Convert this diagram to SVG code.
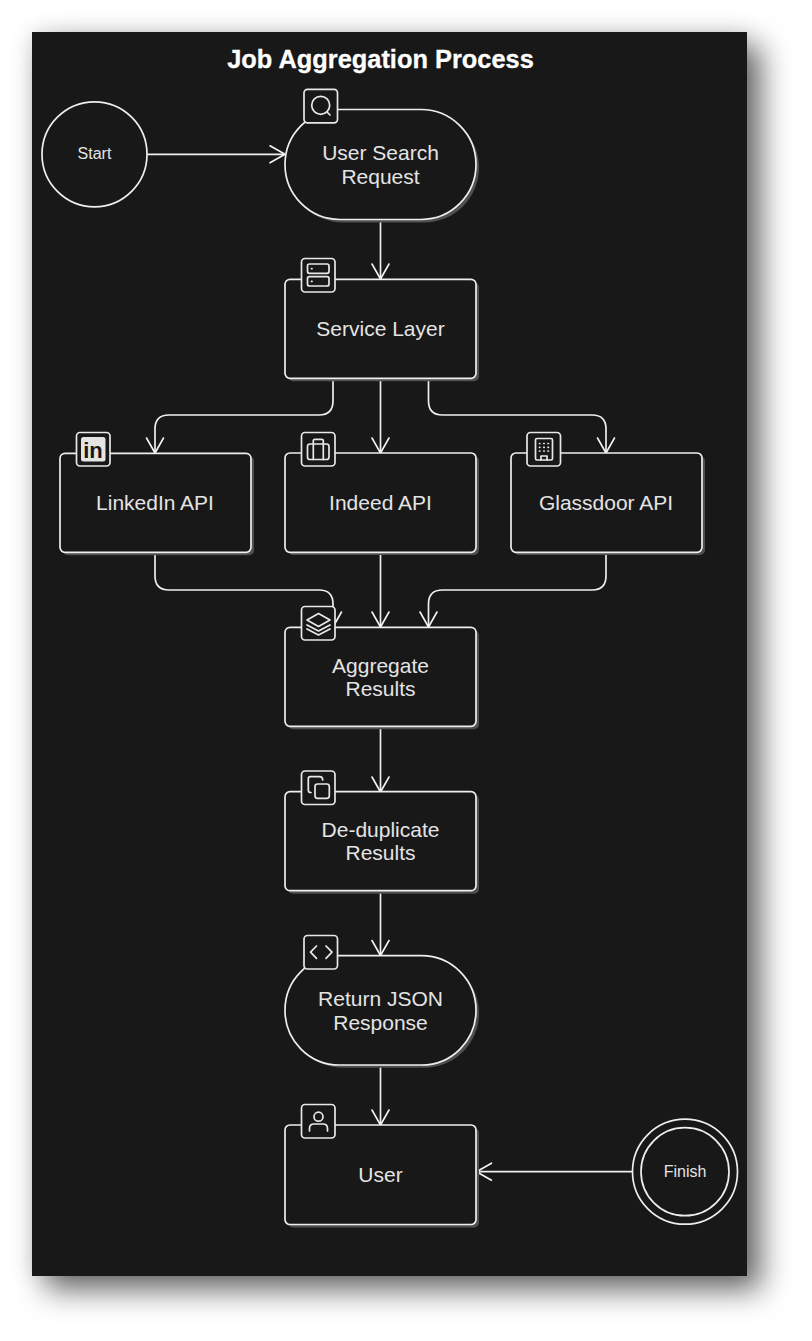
<svg xmlns="http://www.w3.org/2000/svg" width="812" height="1341" viewBox="0 0 812 1341">
<style>
.n{fill:#181818;stroke:#eeeeee;stroke-width:1.7}
.s{fill:#505050;stroke:none}
.b{fill:#181818;stroke:#e8e8e8;stroke-width:1.7}
.i{fill:none;stroke:#e8e8e8;stroke-width:1.7;stroke-linecap:round;stroke-linejoin:round}
.e{fill:none;stroke:#eeeeee;stroke-width:1.7}
.h{fill:none;stroke:#f4f4f4;stroke-width:1.6;stroke-linecap:round;stroke-linejoin:round}
text{font-family:"Liberation Sans",Arial,sans-serif;fill:#e4e4e4;text-anchor:middle}
.l{font-size:21px}
.c{font-size:16px}
</style>
<defs>
<filter id="ps" x="-15%" y="-15%" width="130%" height="130%"><feGaussianBlur stdDeviation="15"/></filter>
<filter id="pf" x="-15%" y="-15%" width="130%" height="130%"><feGaussianBlur stdDeviation="10"/></filter>
<filter id="ns" x="-5%" y="-5%" width="110%" height="110%"><feGaussianBlur stdDeviation=".7"/></filter>
<marker id="a" viewBox="0 0 20 20" refX="18" refY="10" markerWidth="20" markerHeight="20" markerUnits="userSpaceOnUse" orient="auto"><path d="M3 1.500L18 10L3 18.500" class="h"/></marker>
</defs>
<rect width="812" height="1341" fill="#fff"/>
<rect x="32" y="32" width="715" height="1244" fill="#000" fill-opacity=".12" filter="url(#pf)"/>
<rect x="46" y="46" width="715" height="1244" fill="#000" fill-opacity=".58" filter="url(#ps)"/>
<rect x="32" y="32" width="715" height="1244" fill="#181818"/>
<text id="title" x="380.500" y="68" font-size="25.400" font-weight="700" style="fill:#fff" stroke="#fff" stroke-width=".3">Job Aggregation Process</text>
<g id="connectors">
<path class="e" marker-end="url(#a)" d="M147 154.300H285"/>
<path class="e" marker-end="url(#a)" d="M380.500 220V279"/>
<path class="e" marker-end="url(#a)" d="M333 379V401Q333 415 319 415H169Q155 415 155 429V453"/>
<path class="e" marker-end="url(#a)" d="M380.500 379V453"/>
<path class="e" marker-end="url(#a)" d="M428.500 379V401Q428.500 415 442.500 415H592Q606 415 606 429V453"/>
<path class="e" marker-end="url(#a)" d="M155 553V576Q155 590 169 590H319Q333 590 333 604V627"/>
<path class="e" marker-end="url(#a)" d="M380.500 553V627"/>
<path class="e" marker-end="url(#a)" d="M606 553V576Q606 590 592 590H442.500Q428.500 590 428.500 604V627"/>
<path class="e" marker-end="url(#a)" d="M380.500 727V792"/>
<path class="e" marker-end="url(#a)" d="M380.500 891V955.500"/>
<path class="e" marker-end="url(#a)" d="M380.500 1065V1125"/>
<path class="e" marker-end="url(#a)" d="M632 1171.700H476.500"/>
</g>
<g id="start"><circle class="n" cx="94.500" cy="154.300" r="52.500"/><text class="c" x="94.500" y="158.500">Start</text></g>
<g id="search">
<rect class="s" filter="url(#ns)" x="288" y="112.500" width="191" height="110" rx="55"/>
<rect class="n" x="285" y="109.500" width="191" height="110" rx="55"/>
<text class="l" x="380.500" y="160">User Search</text><text class="l" x="380.500" y="184">Request</text>
<rect class="b" x="304" y="89.300" width="33.500" height="33.500" rx="3.500"/>
<circle class="i" cx="320.700" cy="105.300" r="9"/><path class="i" d="M327 112L330 115"/>
</g>
<g id="service">
<rect class="s" filter="url(#ns)" x="288" y="282.300" width="191" height="99" rx="5"/>
<rect class="n" x="285" y="279.300" width="191" height="99" rx="5"/>
<text class="l" x="380.500" y="336">Service Layer</text>
<rect class="b" x="301.500" y="258.500" width="33.500" height="33.500" rx="3.500"/>
<rect class="i" x="307.500" y="264" width="21.500" height="9.300" rx="2"/><rect class="i" x="307.500" y="276.700" width="21.500" height="9.300" rx="2"/><path class="i" d="M311.500 268.700h.5M311.500 281.400h.5"/>
</g>
<g id="linkedin">
<rect class="s" filter="url(#ns)" x="63" y="456.300" width="191" height="99" rx="5"/>
<rect class="n" x="60" y="453.300" width="191" height="99" rx="5"/>
<text class="l" x="155" y="510">LinkedIn API</text>
<rect class="b" x="76.500" y="432.500" width="33.500" height="33.500" rx="3.500"/>
<rect x="81" y="437" width="24.500" height="24.500" rx="2.500" fill="#e4e4e4"/>
<text x="93" y="458" font-size="22" font-weight="700" style="fill:#181818">in</text>
</g>
<g id="indeed">
<rect class="s" filter="url(#ns)" x="288" y="456" width="191" height="99" rx="5"/>
<rect class="n" x="285" y="453" width="191" height="99.300" rx="5"/>
<text class="l" x="380.500" y="510">Indeed API</text>
<rect class="b" x="301.500" y="432.500" width="33.500" height="33.500" rx="3.500"/>
<rect class="i" x="307.500" y="444" width="21.500" height="15.500" rx="2.500"/><path class="i" d="M313.300 444V440.500Q313.300 439.300 315 439.300H321.700Q323.300 439.300 323.300 440.500V444M313.300 444V459.500M323.300 444V459.500"/>
</g>
<g id="glassdoor">
<rect class="s" filter="url(#ns)" x="514" y="456" width="191" height="99" rx="5"/>
<rect class="n" x="511" y="453" width="191" height="99.300" rx="5"/>
<text class="l" x="606" y="510">Glassdoor API</text>
<rect class="b" x="527" y="432.500" width="33.500" height="33.500" rx="3.500"/>
<rect class="i" x="535.500" y="438.500" width="17" height="21.500" rx="1.500"/><path class="i" d="M539.500 443.500h.4M543.800 443.500h.4M548 443.500h.4M539.500 447.300h.4M543.800 447.300h.4M548 447.300h.4M539.500 451h.4M543.800 451h.4M548 451h.4M541 460v-4h6V460"/>
</g>
<g id="aggregate">
<rect class="s" filter="url(#ns)" x="288" y="630.300" width="191" height="99" rx="5"/>
<rect class="n" x="285" y="627.300" width="191" height="99" rx="5"/>
<text class="l" x="380.500" y="673">Aggregate</text><text class="l" x="380.500" y="696">Results</text>
<rect class="b" x="301.500" y="606.500" width="33.500" height="33.500" rx="3.500"/>
<path class="i" d="M318.500 613.500L330 620L318.500 626.500L307 620ZM307 625L318.500 631L330 625M307 629L318.500 635L330 629"/>
</g>
<g id="dedup">
<rect class="s" filter="url(#ns)" x="288" y="794.700" width="191" height="99" rx="5"/>
<rect class="n" x="285" y="791.700" width="191" height="99" rx="5"/>
<text class="l" x="380.500" y="837">De-duplicate</text><text class="l" x="380.500" y="860">Results</text>
<rect class="b" x="301.500" y="771" width="33.500" height="33.500" rx="3.500"/>
<rect class="i" x="315" y="784" width="14.300" height="14.300" rx="2.500"/><path class="i" d="M311 792.500H310.500Q308.300 792.500 308.300 790V779Q308.300 776.700 310.500 776.700H319.500Q322.700 776.700 322.700 780"/>
</g>
<g id="json">
<rect class="s" filter="url(#ns)" x="288" y="958.700" width="191" height="109" rx="54.500"/>
<rect class="n" x="285" y="955.700" width="191" height="109.300" rx="54.500"/>
<text class="l" x="380.500" y="1006">Return JSON</text><text class="l" x="380.500" y="1030">Response</text>
<rect class="b" x="304" y="935.500" width="33.500" height="33.500" rx="3.500"/>
<path class="i" d="M316.500 946L310.500 952.200L316.500 958.300M326 946L332 952.200L326 958.300"/>
</g>
<g id="user">
<rect class="s" filter="url(#ns)" x="288" y="1128" width="191" height="99.500" rx="5"/>
<rect class="n" x="285" y="1125" width="191" height="99.500" rx="5"/>
<text class="l" x="380.500" y="1182">User</text>
<rect class="b" x="301.500" y="1104.500" width="33.500" height="33.500" rx="3.500"/>
<circle class="i" cx="318.500" cy="1116.700" r="4.500"/><path class="i" d="M309.500 1131V1128.500Q309.500 1124 314 1124H323Q327.500 1124 327.500 1128.500V1131"/>
</g>
<g id="finish"><circle class="n" cx="685" cy="1171.700" r="52.500"/><circle class="n" cx="685" cy="1171.700" r="44"/><text class="c" x="685" y="1176.500">Finish</text></g>
</svg>
